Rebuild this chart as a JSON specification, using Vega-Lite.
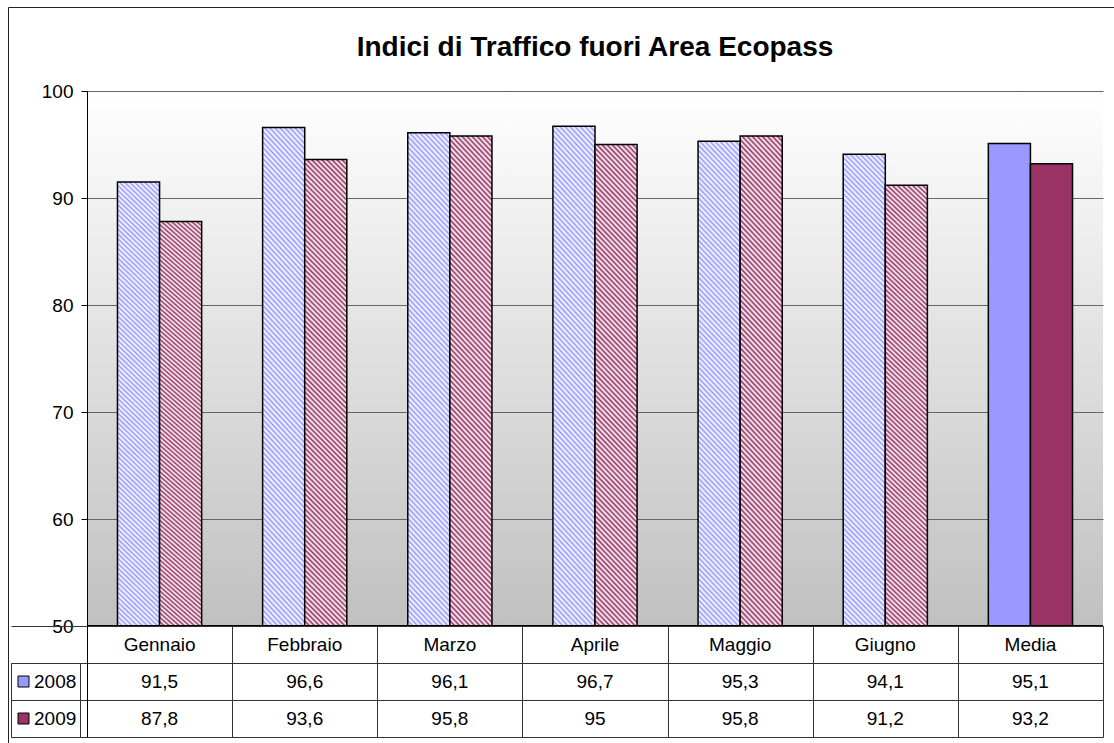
{
  "$schema": "https://vega.github.io/schema/vega-lite/v6.json",
  "width": 1016,
  "height": 646,
  "autosize": {"type": "none"},
  "padding": {"left": 87, "top": 91, "right": 11, "bottom": 6},
  "background": "white",
  "view": {
    "stroke": null,
    "fill": {"gradient": "linear", "x1": 0, "y1": 0, "x2": 0, "y2": 1, "stops": [
      {"offset": 0, "color": "#ffffff"},
      {"offset": 0.8282, "color": "#c0c0c0"},
      {"offset": 0.8282, "color": "#ffffff"},
      {"offset": 1, "color": "#ffffff"}
    ]}
  },
  "title": {
    "text": "Indici di Traffico fuori Area Ecopass",
    "fontSize": 28,
    "fontWeight": "bold",
    "anchor": "middle",
    "frame": "group",
    "baseline": "alphabetic",
    "offset": -77,
    "color": "#000000"
  },
  "datasets": {
    "traffic": [
      {"month": "Gennaio", "series": "2008", "value": 91.5},
      {"month": "Febbraio", "series": "2008", "value": 96.6},
      {"month": "Marzo", "series": "2008", "value": 96.1},
      {"month": "Aprile", "series": "2008", "value": 96.7},
      {"month": "Maggio", "series": "2008", "value": 95.3},
      {"month": "Giugno", "series": "2008", "value": 94.1},
      {"month": "Media", "series": "2008", "value": 95.1},
      {"month": "Gennaio", "series": "2009", "value": 87.8},
      {"month": "Febbraio", "series": "2009", "value": 93.6},
      {"month": "Marzo", "series": "2009", "value": 95.8},
      {"month": "Aprile", "series": "2009", "value": 95},
      {"month": "Maggio", "series": "2009", "value": 95.8},
      {"month": "Giugno", "series": "2009", "value": 91.2},
      {"month": "Media", "series": "2009", "value": 93.2}
    ]
  },
  "data": {"name": "traffic"},
  "layer": [
    {
      "layer": [
        {
          "encoding": {
            "x": {"field": "month", "type": "nominal", "scale": {"domain": ["Gennaio", "Febbraio", "Marzo", "Aprile", "Maggio", "Giugno", "Media"], "paddingInner": 0.42, "paddingOuter": 0.21}, "axis": null},
            "xOffset": {"field": "series", "type": "nominal", "scale": {"domain": ["2008", "2009"], "paddingInner": 0, "paddingOuter": 0}},
            "y": {"field": "value", "type": "quantitative", "scale": {"domain": [50, 100], "range": [535, 0], "zero": false, "nice": false},
              "axis": {"orient": "left", "values": [50, 60, 70, 80, 90, 100], "title": null, "grid": true, "gridColor": "#666666", "gridWidth": 1, "domain": true, "domainColor": "#000000", "ticks": true, "tickSize": 6, "tickColor": "#000000", "labelFontSize": 19, "labelColor": "#000000", "labelPadding": 8}},
            "y2": {"datum": 50}
          },
          "layer": [
            {
              "transform": [{"filter": "datum.month !== 'Media' && datum.series === '2008'"}],
              "mark": {"type": "bar", "stroke": "#000000", "strokeWidth": 1.5, "fill": {"gradient": "linear", "x1": 0, "y1": 1, "x2": 0.0984, "y2": -0.082, "stops": [
{"offset":0,"color":"#99f"},{"offset":0.005,"color":"#fff"},{"offset":0.01,"color":"#99f"},{"offset":0.015,"color":"#fff"},{"offset":0.02,"color":"#99f"},{"offset":0.025,"color":"#fff"},{"offset":0.03,"color":"#99f"},{"offset":0.035,"color":"#fff"},{"offset":0.04,"color":"#99f"},{"offset":0.045,"color":"#fff"},{"offset":0.05,"color":"#99f"},{"offset":0.055,"color":"#fff"},{"offset":0.06,"color":"#99f"},{"offset":0.065,"color":"#fff"},{"offset":0.07,"color":"#99f"},{"offset":0.075,"color":"#fff"},{"offset":0.08,"color":"#99f"},{"offset":0.085,"color":"#fff"},{"offset":0.09,"color":"#99f"},{"offset":0.095,"color":"#fff"},
{"offset":0.1,"color":"#99f"},{"offset":0.105,"color":"#fff"},{"offset":0.11,"color":"#99f"},{"offset":0.115,"color":"#fff"},{"offset":0.12,"color":"#99f"},{"offset":0.125,"color":"#fff"},{"offset":0.13,"color":"#99f"},{"offset":0.135,"color":"#fff"},{"offset":0.14,"color":"#99f"},{"offset":0.145,"color":"#fff"},{"offset":0.15,"color":"#99f"},{"offset":0.155,"color":"#fff"},{"offset":0.16,"color":"#99f"},{"offset":0.165,"color":"#fff"},{"offset":0.17,"color":"#99f"},{"offset":0.175,"color":"#fff"},{"offset":0.18,"color":"#99f"},{"offset":0.185,"color":"#fff"},{"offset":0.19,"color":"#99f"},{"offset":0.195,"color":"#fff"},
{"offset":0.2,"color":"#99f"},{"offset":0.205,"color":"#fff"},{"offset":0.21,"color":"#99f"},{"offset":0.215,"color":"#fff"},{"offset":0.22,"color":"#99f"},{"offset":0.225,"color":"#fff"},{"offset":0.23,"color":"#99f"},{"offset":0.235,"color":"#fff"},{"offset":0.24,"color":"#99f"},{"offset":0.245,"color":"#fff"},{"offset":0.25,"color":"#99f"},{"offset":0.255,"color":"#fff"},{"offset":0.26,"color":"#99f"},{"offset":0.265,"color":"#fff"},{"offset":0.27,"color":"#99f"},{"offset":0.275,"color":"#fff"},{"offset":0.28,"color":"#99f"},{"offset":0.285,"color":"#fff"},{"offset":0.29,"color":"#99f"},{"offset":0.295,"color":"#fff"},
{"offset":0.3,"color":"#99f"},{"offset":0.305,"color":"#fff"},{"offset":0.31,"color":"#99f"},{"offset":0.315,"color":"#fff"},{"offset":0.32,"color":"#99f"},{"offset":0.325,"color":"#fff"},{"offset":0.33,"color":"#99f"},{"offset":0.335,"color":"#fff"},{"offset":0.34,"color":"#99f"},{"offset":0.345,"color":"#fff"},{"offset":0.35,"color":"#99f"},{"offset":0.355,"color":"#fff"},{"offset":0.36,"color":"#99f"},{"offset":0.365,"color":"#fff"},{"offset":0.37,"color":"#99f"},{"offset":0.375,"color":"#fff"},{"offset":0.38,"color":"#99f"},{"offset":0.385,"color":"#fff"},{"offset":0.39,"color":"#99f"},{"offset":0.395,"color":"#fff"},
{"offset":0.4,"color":"#99f"},{"offset":0.405,"color":"#fff"},{"offset":0.41,"color":"#99f"},{"offset":0.415,"color":"#fff"},{"offset":0.42,"color":"#99f"},{"offset":0.425,"color":"#fff"},{"offset":0.43,"color":"#99f"},{"offset":0.435,"color":"#fff"},{"offset":0.44,"color":"#99f"},{"offset":0.445,"color":"#fff"},{"offset":0.45,"color":"#99f"},{"offset":0.455,"color":"#fff"},{"offset":0.46,"color":"#99f"},{"offset":0.465,"color":"#fff"},{"offset":0.47,"color":"#99f"},{"offset":0.475,"color":"#fff"},{"offset":0.48,"color":"#99f"},{"offset":0.485,"color":"#fff"},{"offset":0.49,"color":"#99f"},{"offset":0.495,"color":"#fff"},
{"offset":0.5,"color":"#99f"},{"offset":0.505,"color":"#fff"},{"offset":0.51,"color":"#99f"},{"offset":0.515,"color":"#fff"},{"offset":0.52,"color":"#99f"},{"offset":0.525,"color":"#fff"},{"offset":0.53,"color":"#99f"},{"offset":0.535,"color":"#fff"},{"offset":0.54,"color":"#99f"},{"offset":0.545,"color":"#fff"},{"offset":0.55,"color":"#99f"},{"offset":0.555,"color":"#fff"},{"offset":0.56,"color":"#99f"},{"offset":0.565,"color":"#fff"},{"offset":0.57,"color":"#99f"},{"offset":0.575,"color":"#fff"},{"offset":0.58,"color":"#99f"},{"offset":0.585,"color":"#fff"},{"offset":0.59,"color":"#99f"},{"offset":0.595,"color":"#fff"},
{"offset":0.6,"color":"#99f"},{"offset":0.605,"color":"#fff"},{"offset":0.61,"color":"#99f"},{"offset":0.615,"color":"#fff"},{"offset":0.62,"color":"#99f"},{"offset":0.625,"color":"#fff"},{"offset":0.63,"color":"#99f"},{"offset":0.635,"color":"#fff"},{"offset":0.64,"color":"#99f"},{"offset":0.645,"color":"#fff"},{"offset":0.65,"color":"#99f"},{"offset":0.655,"color":"#fff"},{"offset":0.66,"color":"#99f"},{"offset":0.665,"color":"#fff"},{"offset":0.67,"color":"#99f"},{"offset":0.675,"color":"#fff"},{"offset":0.68,"color":"#99f"},{"offset":0.685,"color":"#fff"},{"offset":0.69,"color":"#99f"},{"offset":0.695,"color":"#fff"},
{"offset":0.7,"color":"#99f"},{"offset":0.705,"color":"#fff"},{"offset":0.71,"color":"#99f"},{"offset":0.715,"color":"#fff"},{"offset":0.72,"color":"#99f"},{"offset":0.725,"color":"#fff"},{"offset":0.73,"color":"#99f"},{"offset":0.735,"color":"#fff"},{"offset":0.74,"color":"#99f"},{"offset":0.745,"color":"#fff"},{"offset":0.75,"color":"#99f"},{"offset":0.755,"color":"#fff"},{"offset":0.76,"color":"#99f"},{"offset":0.765,"color":"#fff"},{"offset":0.77,"color":"#99f"},{"offset":0.775,"color":"#fff"},{"offset":0.78,"color":"#99f"},{"offset":0.785,"color":"#fff"},{"offset":0.79,"color":"#99f"},{"offset":0.795,"color":"#fff"},
{"offset":0.8,"color":"#99f"},{"offset":0.805,"color":"#fff"},{"offset":0.81,"color":"#99f"},{"offset":0.815,"color":"#fff"},{"offset":0.82,"color":"#99f"},{"offset":0.825,"color":"#fff"},{"offset":0.83,"color":"#99f"},{"offset":0.835,"color":"#fff"},{"offset":0.84,"color":"#99f"},{"offset":0.845,"color":"#fff"},{"offset":0.85,"color":"#99f"},{"offset":0.855,"color":"#fff"},{"offset":0.86,"color":"#99f"},{"offset":0.865,"color":"#fff"},{"offset":0.87,"color":"#99f"},{"offset":0.875,"color":"#fff"},{"offset":0.88,"color":"#99f"},{"offset":0.885,"color":"#fff"},{"offset":0.89,"color":"#99f"},{"offset":0.895,"color":"#fff"},
{"offset":0.9,"color":"#99f"},{"offset":0.905,"color":"#fff"},{"offset":0.91,"color":"#99f"},{"offset":0.915,"color":"#fff"},{"offset":0.92,"color":"#99f"},{"offset":0.925,"color":"#fff"},{"offset":0.93,"color":"#99f"},{"offset":0.935,"color":"#fff"},{"offset":0.94,"color":"#99f"},{"offset":0.945,"color":"#fff"},{"offset":0.95,"color":"#99f"},{"offset":0.955,"color":"#fff"},{"offset":0.96,"color":"#99f"},{"offset":0.965,"color":"#fff"},{"offset":0.97,"color":"#99f"},{"offset":0.975,"color":"#fff"},{"offset":0.98,"color":"#99f"},{"offset":0.985,"color":"#fff"},{"offset":0.99,"color":"#99f"},{"offset":0.995,"color":"#fff"},
{"offset":1,"color":"#99f"}
              ]}}
            },
            {
              "transform": [{"filter": "datum.month !== 'Media' && datum.series === '2009'"}],
              "mark": {"type": "bar", "stroke": "#000000", "strokeWidth": 1.5, "fill": {"gradient": "linear", "x1": 0, "y1": 1, "x2": 0.0984, "y2": -0.082, "stops": [
{"offset":0,"color":"#936"},{"offset":0.005,"color":"#fff"},{"offset":0.01,"color":"#936"},{"offset":0.015,"color":"#fff"},{"offset":0.02,"color":"#936"},{"offset":0.025,"color":"#fff"},{"offset":0.03,"color":"#936"},{"offset":0.035,"color":"#fff"},{"offset":0.04,"color":"#936"},{"offset":0.045,"color":"#fff"},{"offset":0.05,"color":"#936"},{"offset":0.055,"color":"#fff"},{"offset":0.06,"color":"#936"},{"offset":0.065,"color":"#fff"},{"offset":0.07,"color":"#936"},{"offset":0.075,"color":"#fff"},{"offset":0.08,"color":"#936"},{"offset":0.085,"color":"#fff"},{"offset":0.09,"color":"#936"},{"offset":0.095,"color":"#fff"},
{"offset":0.1,"color":"#936"},{"offset":0.105,"color":"#fff"},{"offset":0.11,"color":"#936"},{"offset":0.115,"color":"#fff"},{"offset":0.12,"color":"#936"},{"offset":0.125,"color":"#fff"},{"offset":0.13,"color":"#936"},{"offset":0.135,"color":"#fff"},{"offset":0.14,"color":"#936"},{"offset":0.145,"color":"#fff"},{"offset":0.15,"color":"#936"},{"offset":0.155,"color":"#fff"},{"offset":0.16,"color":"#936"},{"offset":0.165,"color":"#fff"},{"offset":0.17,"color":"#936"},{"offset":0.175,"color":"#fff"},{"offset":0.18,"color":"#936"},{"offset":0.185,"color":"#fff"},{"offset":0.19,"color":"#936"},{"offset":0.195,"color":"#fff"},
{"offset":0.2,"color":"#936"},{"offset":0.205,"color":"#fff"},{"offset":0.21,"color":"#936"},{"offset":0.215,"color":"#fff"},{"offset":0.22,"color":"#936"},{"offset":0.225,"color":"#fff"},{"offset":0.23,"color":"#936"},{"offset":0.235,"color":"#fff"},{"offset":0.24,"color":"#936"},{"offset":0.245,"color":"#fff"},{"offset":0.25,"color":"#936"},{"offset":0.255,"color":"#fff"},{"offset":0.26,"color":"#936"},{"offset":0.265,"color":"#fff"},{"offset":0.27,"color":"#936"},{"offset":0.275,"color":"#fff"},{"offset":0.28,"color":"#936"},{"offset":0.285,"color":"#fff"},{"offset":0.29,"color":"#936"},{"offset":0.295,"color":"#fff"},
{"offset":0.3,"color":"#936"},{"offset":0.305,"color":"#fff"},{"offset":0.31,"color":"#936"},{"offset":0.315,"color":"#fff"},{"offset":0.32,"color":"#936"},{"offset":0.325,"color":"#fff"},{"offset":0.33,"color":"#936"},{"offset":0.335,"color":"#fff"},{"offset":0.34,"color":"#936"},{"offset":0.345,"color":"#fff"},{"offset":0.35,"color":"#936"},{"offset":0.355,"color":"#fff"},{"offset":0.36,"color":"#936"},{"offset":0.365,"color":"#fff"},{"offset":0.37,"color":"#936"},{"offset":0.375,"color":"#fff"},{"offset":0.38,"color":"#936"},{"offset":0.385,"color":"#fff"},{"offset":0.39,"color":"#936"},{"offset":0.395,"color":"#fff"},
{"offset":0.4,"color":"#936"},{"offset":0.405,"color":"#fff"},{"offset":0.41,"color":"#936"},{"offset":0.415,"color":"#fff"},{"offset":0.42,"color":"#936"},{"offset":0.425,"color":"#fff"},{"offset":0.43,"color":"#936"},{"offset":0.435,"color":"#fff"},{"offset":0.44,"color":"#936"},{"offset":0.445,"color":"#fff"},{"offset":0.45,"color":"#936"},{"offset":0.455,"color":"#fff"},{"offset":0.46,"color":"#936"},{"offset":0.465,"color":"#fff"},{"offset":0.47,"color":"#936"},{"offset":0.475,"color":"#fff"},{"offset":0.48,"color":"#936"},{"offset":0.485,"color":"#fff"},{"offset":0.49,"color":"#936"},{"offset":0.495,"color":"#fff"},
{"offset":0.5,"color":"#936"},{"offset":0.505,"color":"#fff"},{"offset":0.51,"color":"#936"},{"offset":0.515,"color":"#fff"},{"offset":0.52,"color":"#936"},{"offset":0.525,"color":"#fff"},{"offset":0.53,"color":"#936"},{"offset":0.535,"color":"#fff"},{"offset":0.54,"color":"#936"},{"offset":0.545,"color":"#fff"},{"offset":0.55,"color":"#936"},{"offset":0.555,"color":"#fff"},{"offset":0.56,"color":"#936"},{"offset":0.565,"color":"#fff"},{"offset":0.57,"color":"#936"},{"offset":0.575,"color":"#fff"},{"offset":0.58,"color":"#936"},{"offset":0.585,"color":"#fff"},{"offset":0.59,"color":"#936"},{"offset":0.595,"color":"#fff"},
{"offset":0.6,"color":"#936"},{"offset":0.605,"color":"#fff"},{"offset":0.61,"color":"#936"},{"offset":0.615,"color":"#fff"},{"offset":0.62,"color":"#936"},{"offset":0.625,"color":"#fff"},{"offset":0.63,"color":"#936"},{"offset":0.635,"color":"#fff"},{"offset":0.64,"color":"#936"},{"offset":0.645,"color":"#fff"},{"offset":0.65,"color":"#936"},{"offset":0.655,"color":"#fff"},{"offset":0.66,"color":"#936"},{"offset":0.665,"color":"#fff"},{"offset":0.67,"color":"#936"},{"offset":0.675,"color":"#fff"},{"offset":0.68,"color":"#936"},{"offset":0.685,"color":"#fff"},{"offset":0.69,"color":"#936"},{"offset":0.695,"color":"#fff"},
{"offset":0.7,"color":"#936"},{"offset":0.705,"color":"#fff"},{"offset":0.71,"color":"#936"},{"offset":0.715,"color":"#fff"},{"offset":0.72,"color":"#936"},{"offset":0.725,"color":"#fff"},{"offset":0.73,"color":"#936"},{"offset":0.735,"color":"#fff"},{"offset":0.74,"color":"#936"},{"offset":0.745,"color":"#fff"},{"offset":0.75,"color":"#936"},{"offset":0.755,"color":"#fff"},{"offset":0.76,"color":"#936"},{"offset":0.765,"color":"#fff"},{"offset":0.77,"color":"#936"},{"offset":0.775,"color":"#fff"},{"offset":0.78,"color":"#936"},{"offset":0.785,"color":"#fff"},{"offset":0.79,"color":"#936"},{"offset":0.795,"color":"#fff"},
{"offset":0.8,"color":"#936"},{"offset":0.805,"color":"#fff"},{"offset":0.81,"color":"#936"},{"offset":0.815,"color":"#fff"},{"offset":0.82,"color":"#936"},{"offset":0.825,"color":"#fff"},{"offset":0.83,"color":"#936"},{"offset":0.835,"color":"#fff"},{"offset":0.84,"color":"#936"},{"offset":0.845,"color":"#fff"},{"offset":0.85,"color":"#936"},{"offset":0.855,"color":"#fff"},{"offset":0.86,"color":"#936"},{"offset":0.865,"color":"#fff"},{"offset":0.87,"color":"#936"},{"offset":0.875,"color":"#fff"},{"offset":0.88,"color":"#936"},{"offset":0.885,"color":"#fff"},{"offset":0.89,"color":"#936"},{"offset":0.895,"color":"#fff"},
{"offset":0.9,"color":"#936"},{"offset":0.905,"color":"#fff"},{"offset":0.91,"color":"#936"},{"offset":0.915,"color":"#fff"},{"offset":0.92,"color":"#936"},{"offset":0.925,"color":"#fff"},{"offset":0.93,"color":"#936"},{"offset":0.935,"color":"#fff"},{"offset":0.94,"color":"#936"},{"offset":0.945,"color":"#fff"},{"offset":0.95,"color":"#936"},{"offset":0.955,"color":"#fff"},{"offset":0.96,"color":"#936"},{"offset":0.965,"color":"#fff"},{"offset":0.97,"color":"#936"},{"offset":0.975,"color":"#fff"},{"offset":0.98,"color":"#936"},{"offset":0.985,"color":"#fff"},{"offset":0.99,"color":"#936"},{"offset":0.995,"color":"#fff"},
{"offset":1,"color":"#936"}
              ]}}
            },
            {
              "transform": [{"filter": "datum.month === 'Media'"}],
              "mark": {"type": "bar", "stroke": "#000000", "strokeWidth": 1.5},
              "encoding": {
                "fill": {"field": "series", "type": "nominal", "scale": {"domain": ["2008", "2009"], "range": ["#9999ff", "#993366"]},
                  "legend": {
                    "orient": "none", "legendX": -76, "legendY": 572,
                    "title": null,
                    "padding": 3, "strokeColor": "#333333",
                    "clipHeight": 31, "rowPadding": 6,
                    "labelFontSize": 19, "labelColor": "#000000", "labelOffset": 1,
                    "labelExpr": "datum.label + ' \u200a'",
                    "symbolType": "square", "symbolSize": 121, "symbolStrokeColor": "#000000", "symbolStrokeWidth": 1,
                    "encode": {"symbols": {"update": {
                      "fill": [
                        {"test": "datum.value === '2008'", "value": {"gradient": "linear", "x1": 0, "y1": 1, "x2": 1, "y2": 0, "stops": [{"offset":0,"color":"#99f"},{"offset":0.125,"color":"#fff"},{"offset":0.25,"color":"#99f"},{"offset":0.375,"color":"#fff"},{"offset":0.5,"color":"#99f"},{"offset":0.625,"color":"#fff"},{"offset":0.75,"color":"#99f"},{"offset":0.875,"color":"#fff"},{"offset":1,"color":"#99f"}]}},
                        {"value": {"gradient": "linear", "x1": 0, "y1": 1, "x2": 1, "y2": 0, "stops": [{"offset":0,"color":"#936"},{"offset":0.125,"color":"#fff"},{"offset":0.25,"color":"#936"},{"offset":0.375,"color":"#fff"},{"offset":0.5,"color":"#936"},{"offset":0.625,"color":"#fff"},{"offset":0.75,"color":"#936"},{"offset":0.875,"color":"#fff"},{"offset":1,"color":"#936"}]}}
                      ],
                      "stroke": {"value": "#000000"},
                      "strokeWidth": {"value": 1},
                      "opacity": {"value": 1}
                    }}}
                  }}
              }
            }
          ]
        },
        {
          "mark": {"type": "rule", "color": "#000000", "strokeWidth": 1},
          "encoding": {
            "y": {"datum": 50, "type": "quantitative",
              "axis": {"orient": "left", "values": [50, 60, 70, 80, 90, 100], "title": null, "grid": true, "gridColor": "#666666", "gridWidth": 1, "domain": true, "domainColor": "#000000", "ticks": true, "tickSize": 6, "tickColor": "#000000", "labelFontSize": 19, "labelColor": "#000000", "labelPadding": 8}},
            "strokeDash": {"datum": "frame", "type": "nominal", "scale": {"domain": ["frame"], "range": [[1, 0]]},
              "legend": {"orient": "none", "legendX": -79, "legendY": -84, "title": null, "padding": 2000,
                "strokeColor": "#222222", "labelExpr": "''", "symbolOpacity": 0,
                "encode": {"legend": {"update": {"strokeWidth": {"value": 1.5}}}}}}
          }
        }
      ]
    },
    {
      "encoding": {
        "x": {"field": "month", "type": "nominal", "scale": {"domain": ["Gennaio", "Febbraio", "Marzo", "Aprile", "Maggio", "Giugno", "Media"], "paddingInner": 0, "paddingOuter": 0},
          "axis": {"orient": "bottom", "labels": false, "title": null, "domain": false, "grid": false, "ticks": true, "tickBand": "extent", "tickSize": -111, "tickColor": "#333333", "tickWidth": 1}}
      },
      "layer": [
        {
          "mark": {"type": "text", "fontSize": 19, "color": "#000000", "baseline": "middle", "align": "center"},
          "encoding": {
            "y": {"field": "series", "type": "nominal", "scale": {"domain": ["header", "2008", "2009"], "range": [535, 646], "paddingInner": 0, "paddingOuter": 0},
              "axis": {"orient": "left", "labels": false, "title": null, "domain": true, "domainColor": "#000000", "grid": true, "gridColor": "#333333", "ticks": true, "tickBand": "extent", "tickSize": 76, "tickColor": "#333333", "zindex": 1,
                "encode": {"ticks": {"update": {"strokeOpacity": {"signal": "datum.extra ? 0 : 1"}}}}}},
            "text": {"field": "value", "type": "quantitative", "format": ".3~r"}
          }
        },
        {
          "transform": [{"filter": "datum.series === '2008'"}],
          "mark": {"type": "text", "fontSize": 19, "color": "#000000", "baseline": "middle", "align": "center"},
          "encoding": {
            "y": {"datum": "header", "type": "nominal",
              "axis": {"orient": "left", "labels": false, "title": null, "domain": true, "domainColor": "#000000", "grid": true, "gridColor": "#333333", "ticks": true, "tickBand": "extent", "tickSize": 76, "tickColor": "#333333", "zindex": 1,
                "encode": {"ticks": {"update": {"strokeOpacity": {"signal": "datum.extra ? 0 : 1"}}}}}},
            "text": {"field": "month", "type": "nominal"}
          }
        }
      ]
    }
  ],
  "resolve": {"scale": {"x": "independent", "y": "independent"}},
  "config": {
    "font": "Liberation Sans",
    "locale": {"number": {"decimal": ",", "thousands": ".", "grouping": [3], "currency": ["", " €"]}}
  }
}
